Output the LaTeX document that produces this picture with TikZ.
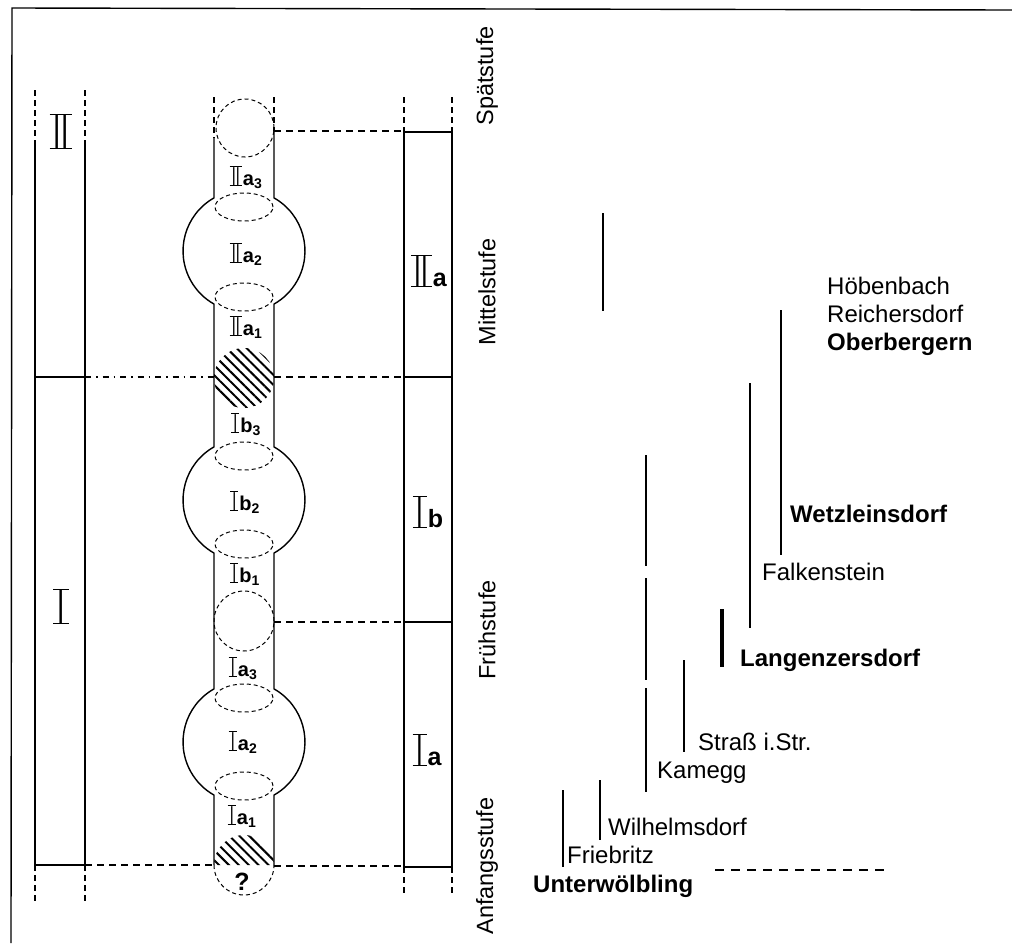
\documentclass[tikz,border=0pt]{standalone}
\usepackage{fontspec}
\setmainfont{Liberation Sans}
\usepackage{graphicx}
\usetikzlibrary{patterns.meta}
% Roman numeral with over- and under-bar: #1 text, #2 rule thickness, #3 horizontal scale
\newcommand{\RomBar}[3]{\scalebox{#3}[1]{\lower#2\vbox{\hrule height #2\hbox{\kern .15em #1\kern .15em}\hrule height #2}}}
\newcommand{\clab}[3]{{\fontsize{26}{26}\selectfont\RomBar{#1}{1.1pt}{0.55}}\kern1pt{\fontsize{20}{22}\selectfont\bfseries #2\textsubscript{#3}}}
\newcommand{\rlab}[2]{{\fontsize{44}{44}\selectfont\RomBar{#1}{1.2pt}{0.55}}\kern1pt{\fontsize{25}{28}\selectfont\bfseries #2}}
\newcommand{\llab}[1]{{\fontsize{48}{48}\selectfont\RomBar{#1}{1.2pt}{0.55}}}
\begin{document}
\begin{tikzpicture}[x=1pt,y=1pt,
  framel/.style={line width=1.4pt},
  colline/.style={line width=1.4pt},
  dsh/.style={line width=1.3pt, dash pattern=on 6pt off 4pt},
  hdsh/.style={line width=1.2pt, dash pattern=on 7pt off 5pt},
  ddot/.style={line width=1.2pt, dash pattern=on 6pt off 5pt on 1.5pt off 5pt},
  thindash/.style={line width=1pt, dash pattern=on 4pt off 3pt},
  siteline/.style={line width=2.6pt},
  sitename/.style={anchor=base west, inner sep=0, font=\fontsize{24}{28}\selectfont},
  bsitename/.style={sitename, font=\fontsize{24}{28}\selectfont\bfseries},
  stage/.style={rotate=90, inner sep=0, font=\fontsize{23.5}{28}\selectfont},
  lab/.style={inner sep=0, anchor=base},
  hatch/.style={pattern={Lines[angle=-45,distance=7pt,line width=2pt]}},
]
\useasboundingbox (0,0) rectangle (1012,-943);

% frame
\draw[framel] (1012,-10) -- (12,-8) -- (11,-943);

% left column
\foreach \x in {35,85}{
  \draw[dsh] (\x,-90) -- (\x,-143);
  \draw[colline] (\x,-143) -- (\x,-865);
  \draw[dsh] (\x,-865) -- (\x,-902);
}
\draw[colline] (35,-377) -- (85,-377);
\draw[colline] (35,-865) -- (85,-865);
\node[lab] (lII) at (61,-148) {\llab{II}};
\node[lab] (lI) at (61,-623) {\llab{I}};

% central column
\draw[dsh] (214,-97) -- (214,-138);
\draw[dsh] (274,-97) -- (274,-131);
\draw[colline] (214,-138) -- (214,-197.9)
  arc[start angle=119.5,end angle=240.5,radius=61] -- (214,-446.9)
  arc[start angle=119.5,end angle=240.5,radius=61] -- (214,-688.9)
  arc[start angle=119.5,end angle=240.5,radius=61] -- (214,-865);
\draw[colline] (274,-131) -- (274,-197.9)
  arc[start angle=60.5,end angle=-60.5,radius=61] -- (274,-446.9)
  arc[start angle=60.5,end angle=-60.5,radius=61] -- (274,-688.9)
  arc[start angle=60.5,end angle=-60.5,radius=61] -- (274,-865);
\draw[thindash] (245,-128) circle[radius=29];
\foreach \y in {207,297,456,544,698,786}{
  \draw[thindash] (244,-\y) ellipse[x radius=29,y radius=14];
}
\fill[hatch] (244,-378) circle[radius=30];
\draw[thindash] (244,-621) circle[radius=30];
\fill[hatch] (214,-865) arc[start angle=180,end angle=0,radius=30] -- cycle;
\draw[thindash] (214,-865) arc[start angle=180,end angle=360,radius=30];
\node[lab, font=\fontsize{25}{26}\selectfont\bfseries] (q) at (242,-890) {?};

\node[lab] (IIa3) at (246,-185) {\clab{II}{a}{3}};
\node[lab] (IIa2) at (246,-262) {\clab{II}{a}{2}};
\node[lab] (IIa1) at (246,-335) {\clab{II}{a}{1}};
\node[lab] (Ib3) at (246,-432) {\clab{I}{b}{3}};
\node[lab] (Ib2) at (245,-510) {\clab{I}{b}{2}};
\node[lab] (Ib1) at (245,-582) {\clab{I}{b}{1}};
\node[lab] (Ia3) at (243,-676) {\clab{I}{a}{3}};
\node[lab] (Ia2) at (243,-750) {\clab{I}{a}{2}};
\node[lab] (Ia1) at (242,-824) {\clab{I}{a}{1}};

% horizontal links
\draw[hdsh] (274,-131) -- (404,-131);
\draw[ddot] (85,-377) -- (214,-377);
\draw[hdsh] (274,-377) -- (404,-377);
\draw[hdsh] (274,-622) -- (404,-622);
\draw[hdsh] (85,-865) -- (214,-865);
\draw[hdsh] (274,-866) -- (404,-866);

% right column
\foreach \x in {404,452}{
  \draw[dsh] (\x,-97) -- (\x,-132);
  \draw[colline] (\x,-132) -- (\x,-867);
  \draw[dsh] (\x,-867) -- (\x,-893);
}
\foreach \y in {132,377,622,867}{
  \draw[colline] (404,-\y) -- (452,-\y);
}
\node[lab] (rIIa) at (429,-286) {\rlab{II}{a}};
\node[lab] (rIb) at (428,-527) {\rlab{I}{b}};
\node[lab] (rIa) at (427,-765) {\rlab{I}{a}};

% stages
\node[stage] (s1) at (487,-76) {Spätstufe};
\node[stage] (s2) at (487,-292) {Mittelstufe};
\node[stage] (s3) at (487,-630) {Frühstufe};
\node[stage] (s4) at (487,-866) {Anfangsstufe};

% site ranges
\draw[siteline] (603,-213) -- (603,-311);
\draw[siteline] (781,-310) -- (781,-555);
\draw[siteline] (750,-383) -- (750,-628);
\draw[siteline] (646,-455) -- (646,-566);
\draw[siteline] (646,-578) -- (646,-680);
\draw[siteline] (646,-688) -- (646,-792);
\draw[siteline, line width=3.2pt] (722,-609) -- (722,-667);
\draw[siteline] (684,-660) -- (684,-752);
\draw[siteline] (600,-780) -- (600,-840);
\draw[siteline] (563,-790) -- (563,-867);
\draw[line width=1.2pt, dash pattern=on 9pt off 7pt] (715,-870) -- (890,-870);

\node[sitename] (hoe) at (827,-294) {Höbenbach};
\node[sitename] (rei) at (827,-322) {Reichersdorf};
\node[bsitename] (obe) at (827,-350) {Oberbergern};
\node[bsitename] (wet) at (790,-522) {Wetzleinsdorf};
\node[sitename] (fal) at (762,-580) {Falkenstein};
\node[bsitename] (lan) at (740,-666) {Langenzersdorf};
\node[sitename] (str) at (698,-750) {Straß i.Str.};
\node[sitename] (kam) at (657,-778) {Kamegg};
\node[sitename] (wil) at (608,-835) {Wilhelmsdorf};
\node[sitename] (fri) at (567,-863) {Friebritz};
\node[bsitename] (unt) at (533,-892) {Unterwölbling};
\end{tikzpicture}
\end{document}
